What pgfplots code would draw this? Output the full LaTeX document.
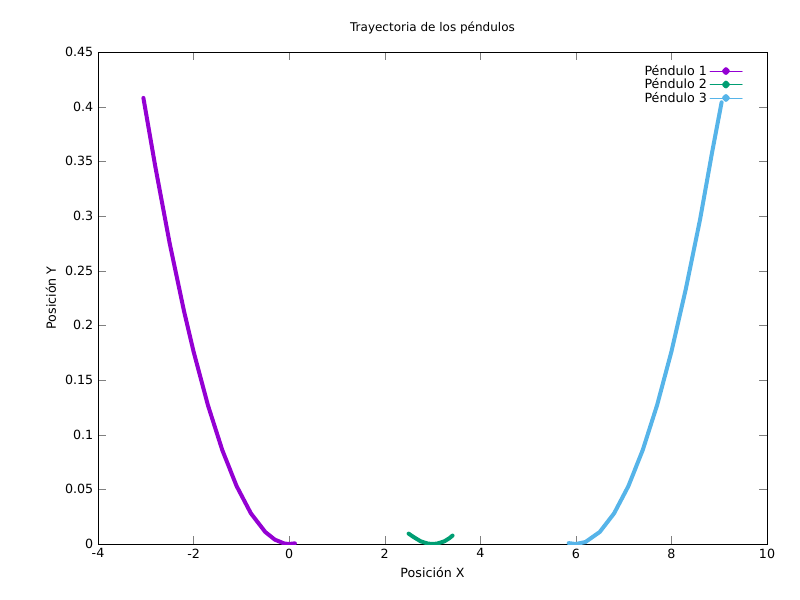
\documentclass[border=0pt]{standalone}
\usepackage{pgfplots}
\pgfplotsset{compat=1.18}
\usepackage{fontspec}
\setmainfont{DejaVu Sans}
\definecolor{c1}{HTML}{9400D3}
\definecolor{c2}{HTML}{009E73}
\definecolor{c3}{HTML}{56B4E9}
\begin{document}
\begin{tikzpicture}
\path[use as bounding box] (-73.5pt,-42pt) rectangle (526.5pt,408pt);
\begin{axis}[
  scale only axis, width=501.75pt, height=369pt,
  at={(0,0)}, anchor=south west,
  xmin=-4, xmax=10, ymin=0, ymax=0.45,
  xtick={-4,-2,...,10}, ytick={0,0.05,...,0.45},
  yticklabel style={/pgf/number format/fixed,/pgf/number format/precision=2},
  /pgf/number format/assume math mode=true,
  tick align=inside, tick pos=both,
  major tick length=6pt,
  ticklabel style={font=\fontsize{9.5}{10}\selectfont},
  label style={font=\fontsize{9.5}{10}\selectfont},
  xlabel={Posición X}, ylabel={Posición Y},
  title={Trayectoria de los péndulos},
  title style={font=\fontsize{9}{10}\selectfont, yshift=4pt},
  legend style={at={(0.97,0.985)}, anchor=north east, draw=none, fill=none, font=\fontsize{9.5}{10}\selectfont, row sep=-3pt},
  legend plot pos=right,
  legend cell align=right,
  legend image code/.code={
    \draw[line width=0.6pt] (0,0)--(0.85cm,0);
    \fill (0.42cm,0) circle (1.4pt);
  },
]
\addplot[c1, line width=3pt, line join=round, line cap=round] coordinates {
(-3.05,0.408) (-2.8,0.345) (-2.5,0.275) (-2.2,0.213) (-2.0,0.176) (-1.7,0.127)
(-1.4,0.086) (-1.1,0.053) (-0.8,0.028) (-0.5,0.011) (-0.3,0.004) (-0.1,0.0004)
(0,0) (0.12,0.0006)};
\addlegendentry{Péndulo 1}
\addplot[c2, line width=3pt, line join=round, line cap=round] coordinates {
(2.5,0.0095) (2.6,0.0065) (2.75,0.0025) (2.9,0.0004) (3.0,0) (3.1,0.0004)
(3.25,0.0025) (3.35,0.0052) (3.42,0.0077)};
\addlegendentry{Péndulo 2}
\addplot[c3, line width=3pt, line join=round, line cap=round] coordinates {
(5.85,0.0008) (6,0) (6.2,0.0018) (6.5,0.011) (6.8,0.028) (7.1,0.053) (7.4,0.086)
(7.7,0.127) (8.0,0.176) (8.3,0.233) (8.6,0.297) (8.85,0.358) (9.05,0.404)};
\addlegendentry{Péndulo 3}
\end{axis}
\end{tikzpicture}
\end{document}
